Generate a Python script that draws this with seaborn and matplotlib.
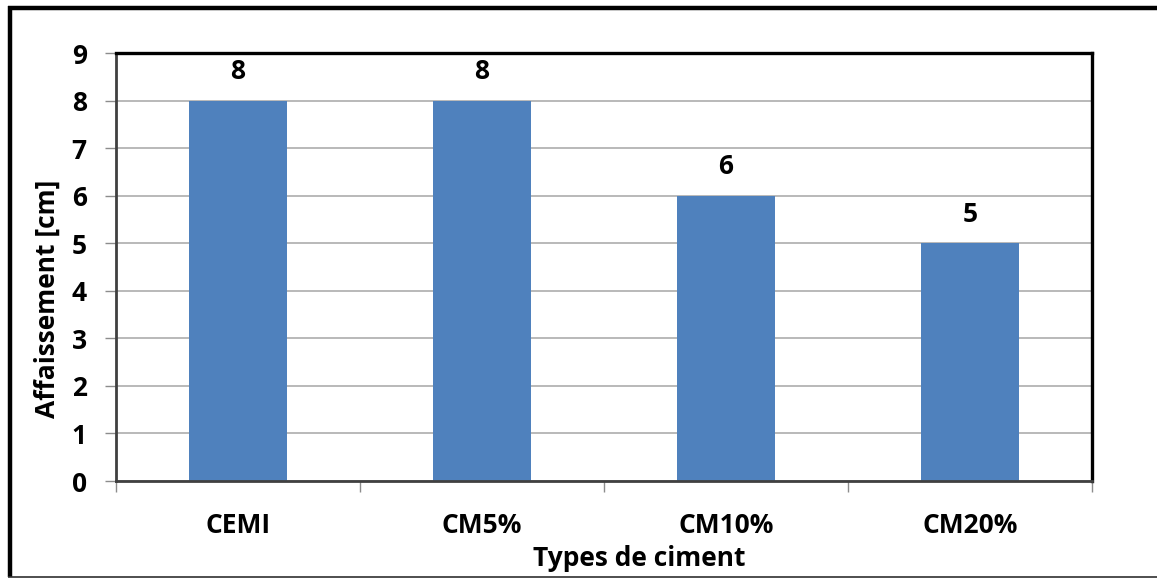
import matplotlib
matplotlib.use("Agg")
import matplotlib.pyplot as plt
from matplotlib.lines import Line2D
from matplotlib.ticker import FixedLocator, NullFormatter
import seaborn as sns
import pandas as pd

# Slump test results per cement type
cement_types = ["CEMI", "CM5%", "CM10%", "CM20%"]
slump_cm = [8, 8, 6, 5]
y_ticks = [0, 1, 2, 3, 4, 5, 6, 7, 8, 9]

df = pd.DataFrame({"Type": cement_types, "Affaissement": slump_cm})

sns.set_theme(style="white")
plt.rcParams["font.family"] = ["Open Sans", "DejaVu Sans"]
plt.rcParams["font.weight"] = "bold"
FS = 19

W, H = 1157, 579
fig = plt.figure(figsize=(W / 100, H / 100), dpi=100)
fig.patch.set_facecolor("white")

ax = fig.add_axes([116 / W, 1 - 481 / H, 976 / W, 428 / H])

sns.barplot(data=df, x="Type", y="Affaissement", color="#4F81BD",
            saturation=1, width=0.4, ax=ax, zorder=3, edgecolor="none")

ax.set_ylim(0, 9)
ax.set_xlim(-0.5, len(cement_types) - 0.5)
ax.set_yticks(y_ticks)
ax.set_yticklabels([str(t) for t in y_ticks])
ax.yaxis.grid(True, color="#A6A6A6", linewidth=1.1, zorder=0)
ax.xaxis.grid(False)

# value labels on top of each bar
for cont in ax.containers:
    ax.bar_label(cont, labels=[f"{v:g}" for v in slump_cm], padding=11,
                 fontsize=FS, fontweight="bold", color="black")

# tick styling
ax.tick_params(axis="y", which="major", left=True, length=8, width=1,
               color="#8C8C8C", pad=13, labelsize=FS, labelcolor="black")
ax.tick_params(axis="x", which="major", bottom=False, length=0, pad=22,
               labelsize=FS, labelcolor="black")
ax.xaxis.set_minor_locator(FixedLocator([-0.5, 0.5, 1.5, 2.5, 3.5]))
ax.xaxis.set_minor_formatter(NullFormatter())
ax.tick_params(axis="x", which="minor", bottom=True, length=8, width=1,
               color="#8C8C8C", direction="out")
for lbl in ax.get_xticklabels() + ax.get_yticklabels():
    lbl.set_fontweight("bold")

ax.set_xlabel("Types de ciment", fontsize=FS, fontweight="bold", color="black")
ax.set_ylabel("Affaissement [cm]", fontsize=FS, fontweight="bold", color="black")
ax.xaxis.set_label_coords((639 - 116) / 976, (481 - 558) / 428)
ax.yaxis.set_label_coords((47 - 116) / 976, (481 - 299) / 428)
ax.xaxis.label.set_va("center")
ax.yaxis.label.set_va("center")

# plot-area frame
ax.spines["top"].set_color("black")
ax.spines["top"].set_linewidth(2.4)
ax.spines["right"].set_color("black")
ax.spines["right"].set_linewidth(2.4)
ax.spines["left"].set_color("#404040")
ax.spines["left"].set_linewidth(2.0)
ax.spines["bottom"].set_color("#404040")
ax.spines["bottom"].set_linewidth(2.0)
for s in ax.spines.values():
    s.set_zorder(5)

# outer chart border
def fig_line(xs, ys, lw, color):
    fig.add_artist(Line2D([x / W for x in xs], [1 - y / H for y in ys],
                          transform=fig.transFigure, color=color,
                          linewidth=lw, solid_capstyle="butt"))

fig_line([9.5, 9.5], [5.5, 577], 3.2, "black")
fig_line([7.5, W], [7.5, 7.5], 3.2, "black")
fig_line([8, W], [576.8, 576.8], 1.2, "#303030")

fig.savefig("out.png", dpi=100, facecolor="white")
